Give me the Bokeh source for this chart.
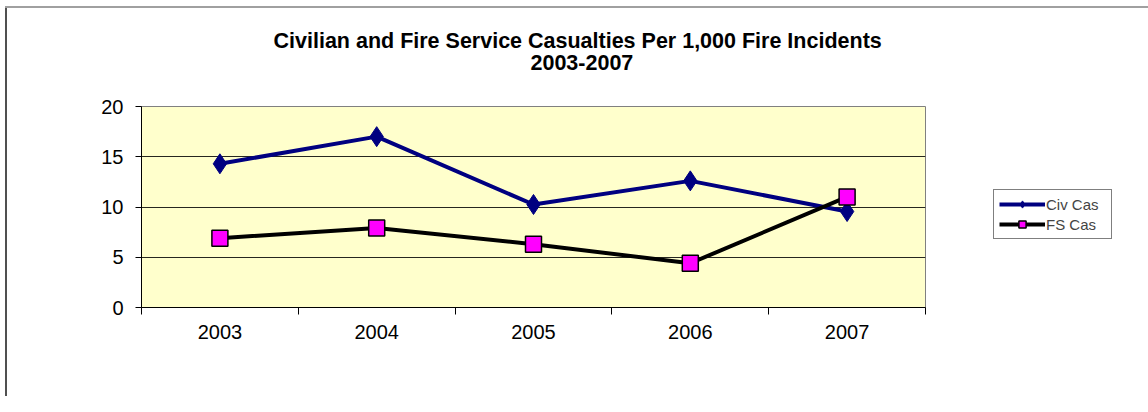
from bokeh.plotting import figure
from bokeh.models import Range1d, FixedTicker, Legend, LegendItem, Title, LinearAxis
from bokeh.embed import file_html
from bokeh.resources import INLINE

years = ["2003", "2004", "2005", "2006", "2007"]
civ_cas = [14.3, 17.0, 10.25, 12.6, 9.55]
fs_cas = [6.9, 7.9, 6.3, 4.4, 11.0]
y_ticks = [0, 5, 10, 15, 20]

xpos = [i + 0.5 for i in range(len(years))]

FONT = "Liberation Sans"

p = figure(frame_width=784, frame_height=201, output_backend="svg", toolbar_location=None,
           x_range=Range1d(0, len(years)), y_range=Range1d(0, 20),
           min_border_left=141, min_border_right=0, min_border_top=106,
           min_border_bottom=89)

p.background_fill_color = "#FFFFCC"
p.border_fill_alpha = 0
p.styles = {"background": "linear-gradient(#a0a0a0, #a0a0a0) 5px 6px / 100% 2px no-repeat, "
                          "linear-gradient(#505050, #505050) 5px 6px / 2px 100% no-repeat, white"}
p.outline_line_color = "#808080"
p.outline_line_width = 1

# x axis (bottom)
xa = p.below[0]
xa.ticker = FixedTicker(ticks=xpos, minor_ticks=list(range(len(years) + 1)))
xa.major_label_overrides = {x: y for x, y in zip(xpos, years)}
xa.major_tick_out = 0
xa.major_tick_in = 0
xa.minor_tick_out = 7
xa.minor_tick_in = 0
xa.minor_tick_line_color = "black"
xa.axis_line_color = "black"
xa.major_label_text_font = FONT
xa.major_label_text_font_size = "20px"
xa.major_label_text_color = "black"
xa.major_label_standoff = 10

# spacer axis above the frame: one hidden tick with an empty label
mid = len(years) / 2
spacer = LinearAxis(ticker=FixedTicker(ticks=[mid], minor_ticks=[]), major_tick_out=37,
                    major_tick_in=0, major_label_standoff=0,
                    major_label_overrides={mid: ""}, major_label_text_font_size="1px",
                    axis_line_color=None, major_tick_line_color=None,
                    minor_tick_line_color=None)
p.add_layout(spacer, "above")

# titles
t2 = Title(text="2003-2007", align="left", offset=389, text_font=FONT,
           text_font_size="21.5px", text_font_style="bold", text_color="black",
           standoff=0)
t1 = Title(text="Civilian  and Fire Service Casualties Per 1,000 Fire Incidents",
           align="left", offset=132, text_font=FONT, text_font_size="21.5px",
           text_font_style="bold", text_color="black", standoff=0)
p.add_layout(t2, "above")
p.add_layout(t1, "above")

# y axis
ya = p.left[0]
ya.ticker = FixedTicker(ticks=y_ticks)
ya.major_tick_out = 6
ya.major_tick_in = 0
ya.minor_tick_line_color = None
ya.axis_line_color = "black"
ya.major_label_text_font = FONT
ya.major_label_text_font_size = "20px"
ya.major_label_text_color = "black"
ya.major_label_standoff = 12

p.xgrid.grid_line_color = None
p.ygrid.grid_line_color = "black"
p.ygrid.grid_line_width = 1
p.ygrid.grid_line_alpha = 0.85

l1 = p.line(xpos, civ_cas, line_color="#000080", line_width=4)
s1 = p.scatter(xpos, civ_cas, marker="diamond", size=20, fill_color="#000080",
               line_color="#000080")
l2 = p.line(xpos, fs_cas, line_color="black", line_width=4)
s2 = p.scatter(xpos, fs_cas, marker="square", size=16, fill_color="#FF00FF",
               line_color="black", line_width=1.5)

legend = Legend(items=[LegendItem(label="Civ Cas", renderers=[l1, s1]),
                       LegendItem(label="FS Cas", renderers=[l2, s2])],
                location=(68, 68), orientation="vertical",
                border_line_color="black", border_line_width=1,
                background_fill_color="white", background_fill_alpha=1,
                label_text_font=FONT, label_text_font_size="15px",
                glyph_width=46, glyph_height=18, label_standoff=1,
                label_width=60, spacing=2, padding=5, margin=0, label_height=18)
p.add_layout(legend, "right")

open("out.html", "w").write(file_html(p, INLINE))
